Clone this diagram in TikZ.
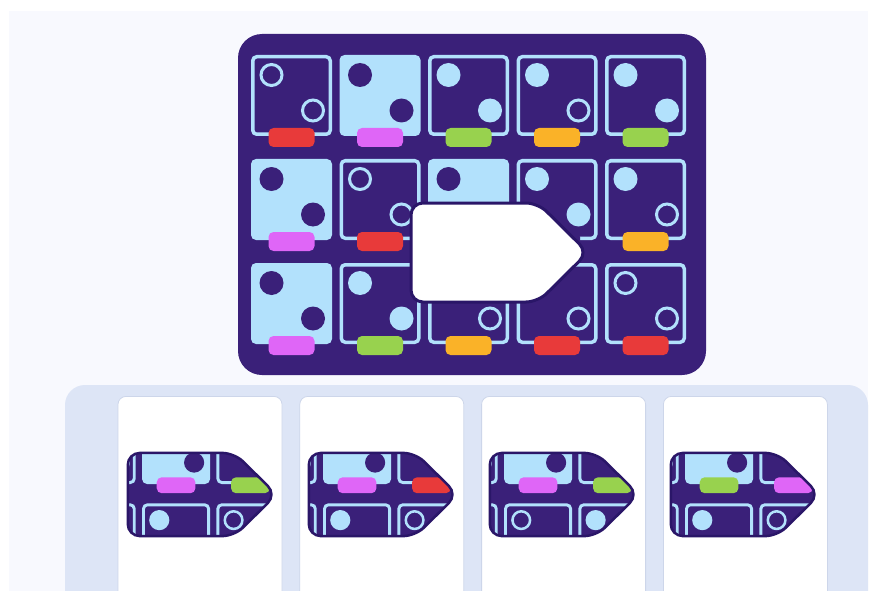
\documentclass[tikz,border=0pt]{standalone}
\usetikzlibrary{positioning}
\definecolor{pagebg}{HTML}{F8F9FE}
\definecolor{traybg}{HTML}{DDE5F6}
\definecolor{cardedge}{HTML}{CDD6EA}
\definecolor{boardpurple}{HTML}{3A2079}
\definecolor{holeedge}{HTML}{2A1668}
\definecolor{tileblue}{HTML}{B2E1FC}
\definecolor{tabred}{HTML}{E83A3A}
\definecolor{tabpink}{HTML}{DF66F7}
\definecolor{tabgreen}{HTML}{98D24E}
\definecolor{taborange}{HTML}{FAB228}

\newcommand{\pcscale}{1}
% one tile of the board: name, column, row, tile, upper dot, lower dot, tab
\newcommand{\puzzletile}[7]{%
  \pgfmathsetmacro\tilex{291.5+(#2-1)*88.5}%
  \pgfmathsetmacro\tiley{95.5+(#3-1)*104}%
  \node[#4] (#1) at (\tilex,\tiley) {};
  \node[#5] at (\tilex-20,\tiley-20.5) {};
  \node[#6] at (\tilex+21.5,\tiley+15) {};
  \node[tabchip, fill=#7] at (\tilex,\tiley+42) {};
}
\newcommand{\holeshape}[1]{%
  \path[#1] (411,203) -- (538,203) -- (588,252.5) -- (538,302) -- (411,302) -- cycle;}
% one answer: prefix, centre x, light tab, dark tab, lower left dot, lower right dot
\newcommand{\puzzlepiece}[6]{%
  \begin{scope}[shift={(#2,494.5)}, scale=0.84, shift={(-497,-252.5)}, transform shape]
    \def\pcscale{0.84}
    \begin{scope}
      \holeshape{clip, rounded corners=12pt}
      \fill[boardpurple] (400,190) rectangle (600,320);
      \puzzletile{#1a}{2}{2}{darktile}{ringdot}{ringdot}{tabred}
      \puzzletile{#1b}{3}{2}{lighttile}{darkdot}{darkdot}{#3}
      \puzzletile{#1c}{4}{2}{darktile}{fulldot}{fulldot}{#4}
      \puzzletile{#1d}{2}{3}{darktile}{fulldot}{fulldot}{tabgreen}
      \puzzletile{#1e}{3}{3}{darktile}{#5}{ringdot}{taborange}
      \puzzletile{#1f}{4}{3}{darktile}{#6}{ringdot}{tabred}
    \end{scope}
    \holeshape{draw=holeedge, line width=2.5pt, rounded corners=12pt}
  \end{scope}
}

\begin{document}
\begin{tikzpicture}[
  x=1pt, y=-1pt,
  darktile/.style={rectangle, draw=tileblue, fill=boardpurple, line width=\pcscale*3.5pt,
    rounded corners=4pt, minimum size=77.5pt, inner sep=0pt},
  lighttile/.style={rectangle, fill=tileblue, rounded corners=5pt, minimum size=81pt, inner sep=0pt},
  ringdot/.style={circle, draw=tileblue, line width=\pcscale*3pt, minimum size=21pt, inner sep=0pt},
  fulldot/.style={circle, fill=tileblue, minimum size=24pt, inner sep=0pt},
  darkdot/.style={circle, fill=boardpurple, minimum size=24pt, inner sep=0pt},
  tabchip/.style={rectangle, rounded corners=5pt, minimum width=46pt, minimum height=19pt, inner sep=0pt},
  answercard/.style={rectangle, draw=cardedge, line width=0.8pt, fill=white, rounded corners=8pt,
    minimum width=164pt, minimum height=220pt, inner sep=0pt}
]
\useasboundingbox (0,0) rectangle (870,591);
\fill[white] (0,0) rectangle (870,591);
\fill[pagebg] (9,11) rectangle (868,591);

% board
\fill[boardpurple, rounded corners=24pt] (238,34) rectangle (706,375);
\puzzletile{t11}{1}{1}{darktile}{ringdot}{ringdot}{tabred}
\puzzletile{t12}{2}{1}{lighttile}{darkdot}{darkdot}{tabpink}
\puzzletile{t13}{3}{1}{darktile}{fulldot}{fulldot}{tabgreen}
\puzzletile{t14}{4}{1}{darktile}{fulldot}{ringdot}{taborange}
\puzzletile{t15}{5}{1}{darktile}{fulldot}{fulldot}{tabgreen}
\puzzletile{t21}{1}{2}{lighttile}{darkdot}{darkdot}{tabpink}
\puzzletile{t22}{2}{2}{darktile}{ringdot}{ringdot}{tabred}
\puzzletile{t23}{3}{2}{lighttile}{darkdot}{darkdot}{tabpink}
\puzzletile{t24}{4}{2}{darktile}{fulldot}{fulldot}{boardpurple}
\puzzletile{t25}{5}{2}{darktile}{fulldot}{ringdot}{taborange}
\puzzletile{t31}{1}{3}{lighttile}{darkdot}{darkdot}{tabpink}
\puzzletile{t32}{2}{3}{darktile}{fulldot}{fulldot}{tabgreen}
\puzzletile{t33}{3}{3}{darktile}{fulldot}{ringdot}{taborange}
\puzzletile{t34}{4}{3}{darktile}{ringdot}{ringdot}{tabred}
\puzzletile{t35}{5}{3}{darktile}{ringdot}{ringdot}{tabred}
\holeshape{draw=holeedge, line width=3pt, fill=white, rounded corners=12pt}

% answers
\fill[traybg, rounded corners=20pt] (65,385) rectangle (868,630);
\node[answercard, anchor=north] (card1) at (200,396) {};
\node[answercard, right=17pt of card1] (card2) {};
\node[answercard, right=17pt of card2] (card3) {};
\node[answercard, right=17pt of card3] (card4) {};
\puzzlepiece{p1}{200}{tabpink}{tabgreen}{fulldot}{ringdot}
\puzzlepiece{p2}{381}{tabpink}{tabred}{fulldot}{ringdot}
\puzzlepiece{p3}{562}{tabpink}{tabgreen}{ringdot}{fulldot}
\puzzlepiece{p4}{743}{tabgreen}{tabpink}{fulldot}{ringdot}
\end{tikzpicture}
\end{document}
